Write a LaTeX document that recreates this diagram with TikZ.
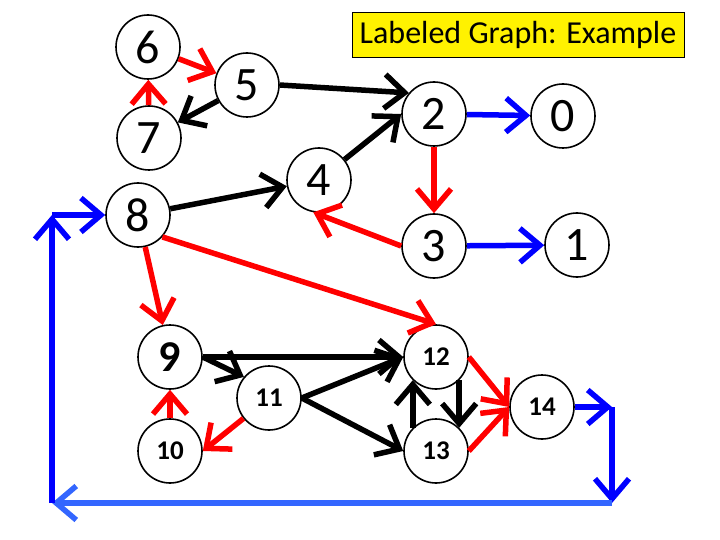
\documentclass[tikz,border=0pt]{standalone}
\usepackage{fontspec}
\setmainfont{Carlito}
\usetikzlibrary{arrows.meta}
\definecolor{loopblue}{HTML}{3366FF}
\tikzstyle{num_node} = [
    circle, 
    draw=black, 
    fill=white, 
    line width=1.6pt, 
    inner sep=0pt, % digits only
    minimum size=64pt, 
    font=\fontsize{48}{48}\selectfont
]
\tikzstyle{bold_node} = [
    num_node, 
    font=\bfseries\fontsize{27}{27}\selectfont
]
\tikzstyle{big_bold_node} = [
    num_node, 
    font=\bfseries\fontsize{44}{44}\selectfont
]
\tikzstyle{black_edge} = [
    draw=black, 
    line width=5.5pt, 
    -{Straight Barb[length=20pt, width=34pt]}
]
\tikzstyle{red_edge} = [
    black_edge, 
    draw=red
]
\tikzstyle{blue_edge} = [
    black_edge, 
    draw=blue
]
\tikzstyle{title_box} = [
    rectangle, 
    draw=black, 
    fill=yellow, 
    line width=0.8pt, 
    minimum width=332pt, 
    minimum height=45pt, 
    font=\fontsize{32}{32}\selectfont
]
\begin{document}
\begin{tikzpicture}[x=1pt, y=-1pt]
\useasboundingbox (0,0) rectangle (720,540);

\node [title_box] (title) at (518,34.5) {Labeled Graph: Example};

% top group
\node [num_node] (n6) at (148,47) {6};
\node [num_node] (n5) at (247,85) {5};
\node [num_node] (n7) at (149,138) {7};
\node [num_node] (n2) at (434,114) {2};
\node [num_node] (n0) at (563,116) {0};
\node [num_node] (n4) at (319,180) {4};
\node [num_node] (n8) at (138,215) {8};
\node [num_node] (n3) at (434,246) {3};
\node [num_node] (n1) at (577,245) {1};

% bottom group
\node [big_bold_node] (n9) at (170,357) {9};
\node [bold_node] (n11) at (269,398) {11};
\node [bold_node] (n10) at (170,451) {10};
\node [bold_node] (n12) at (436,357) {12};
\node [bold_node] (n13) at (436,451) {13};
\node [bold_node] (n14) at (542,407) {14};

\coordinate (c1) at (612,407);
\coordinate (c2) at (612,503);
\coordinate (c3) at (52,503);
\coordinate (c4) at (52,215);

\draw [red_edge] (n6) -- (n5);
\draw [red_edge] (n7) -- (n6);
\draw [black_edge] (n5) -- (n7);
\draw [black_edge] (n5.east) -- (n2.140);
\draw [black_edge] (n4) -- (n2.west);
\draw [black_edge] (n8) -- (n4);
\draw [blue_edge] (n2) -- (n0);
\draw [red_edge] (n2) -- (n3);
\draw [red_edge] (n3.west) -- (n4.260);
\draw [blue_edge] (n3) -- (n1);
\draw [red_edge] (n8) -- (n9);
\draw [red_edge] (n8.-42) -- (n12.north);

\draw [black_edge] (n9.east) -- (n12.west);
\draw [black_edge] (n9.east) -- (n11.140);
\draw [black_edge] (n11.east) -- (n12.west);
\draw [black_edge] (n11.east) -- (n13.west);
\draw [red_edge] (n11) -- (n10.east);
\draw [red_edge] (n10) -- (n9);
\draw [black_edge] (n13.135) -- (n12.225);
\draw [black_edge] (n12.-45) -- (n13.45);
\draw [red_edge] (n12.east) -- (n14.west);
\draw [red_edge] (n13.east) -- (n14.west);

% loop back to 8
\draw [blue_edge] (n14) -- (c1);
\draw [blue_edge] (c1) -- (c2);
\draw [blue_edge, draw=loopblue] (c2) -- (c3);
\draw [blue_edge] (c3) -- (c4);
\draw [blue_edge] (c4) -- (n8);
\end{tikzpicture}
\end{document}
